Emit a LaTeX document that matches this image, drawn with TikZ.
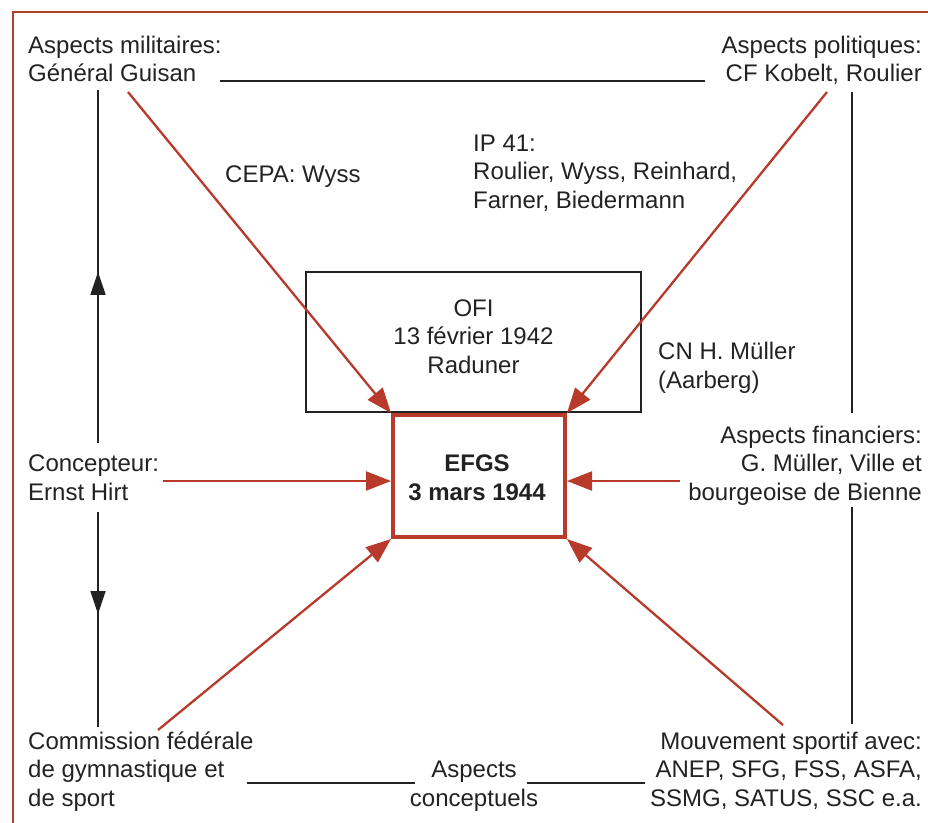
\documentclass[tikz,border=0pt]{standalone}
\usepackage{fontspec}
\setmainfont{Liberation Sans}
\usetikzlibrary{arrows.meta,decorations.markings}
\definecolor{efred}{HTML}{B83A2A}
\definecolor{framered}{HTML}{B0402F}
\definecolor{inkblack}{HTML}{222222}
\tikzset{
  lbl/.style={inner sep=0pt, font=\fontsize{24}{28.2}\selectfont, text=inkblack},
  redarrow/.style={draw=efred, line width=2.3pt, -{Triangle[length=25pt,width=19pt]}},
  blackline/.style={draw=inkblack, line width=1.5pt},
  uparrowmid/.style={blackline, postaction={decorate}, decoration={markings,
      mark=at position #1 with {\arrow{Triangle[length=23pt,width=15pt]}}}},
}
\begin{document}
\begin{tikzpicture}[x=1pt,y=-1pt]
\useasboundingbox (0,0) rectangle (928,822);
% frame
\draw[framered, line width=2.5pt] (930,12) -- (13,12) -- (13,824);

% text nodes (base anchor = baseline of last line)
\node[lbl, anchor=base west, align=left] (mil) at (28,81.5) {Aspects militaires:\\Général Guisan};
\node[lbl, anchor=base east, align=right] (pol) at (922,81.5) {Aspects politiques:\\CF Kobelt, Roulier};
\node[lbl, anchor=base west] (cepa) at (225,182) {CEPA: Wyss};
\node[lbl, anchor=base west, align=left] (ip) at (473,208) {IP 41:\\Roulier, Wyss, Reinhard,\\Farner, Biedermann};
\node[lbl, anchor=base west, align=left] (cn) at (658,388) {CN H. Müller\\(Aarberg)};
\node[lbl, anchor=base east, align=right] (fin) at (922,500) {Aspects financiers:\\G. Müller, Ville et\\bourgeoise de Bienne};
\node[lbl, anchor=base west, align=left] (conc) at (28,500) {Concepteur:\\Ernst Hirt};
\node[lbl, anchor=base west, align=left] (com) at (28,806) {Commission fédérale\\de gymnastique et\\de sport};
\node[lbl, anchor=base, align=center] (asp) at (474,806) {Aspects\\conceptuels};
\node[lbl, anchor=base east, align=right] (mouv) at (922,806) {Mouvement sportif avec:\\ANEP, SFG, FSS, ASFA,\\SSMG, SATUS, SSC e.a.};

% boxes
\node[draw=inkblack, line width=2.5pt, minimum width=335pt, minimum height=140pt, inner sep=0pt] (ofi) at (473.5,342) {};
\node[lbl, anchor=base, align=center] (ofit) at (473.5,373) {OFI\\13 février 1942\\Raduner};
\node[draw=efred, line width=4pt, minimum width=172pt, minimum height=122pt, inner sep=0pt] (efgs) at (479,476) {};
\node[lbl, anchor=base, align=center, font=\fontsize{24}{28.2}\selectfont\bfseries] (efgst) at (477,500) {EFGS\\3 mars 1944};

% coordinates for line ends
\coordinate (lt) at (98,90);
\coordinate (lm1) at (98,443);
\coordinate (lm2) at (98,512);
\coordinate (lb) at (98,727);
\coordinate (rt) at (852,92);
\coordinate (rm1) at (852,413);
\coordinate (rm2) at (852,507);
\coordinate (rb) at (852,724);
\coordinate (tl1) at (220,81);
\coordinate (tl2) at (705,81);
\coordinate (bl1) at (247,783);
\coordinate (bl2) at (415,783);
\coordinate (bl3) at (527,783);
\coordinate (bl4) at (645,783);
\coordinate (gu) at (128,92);
\coordinate (ko) at (827,92);
\coordinate (hi) at (163,481);
\coordinate (bi) at (680,481);
\coordinate (cf) at (158,730);
\coordinate (mo) at (783,725);

% black lines
\draw[blackline] (tl1) -- (tl2);
\draw[blackline] (bl1) -- (bl2);
\draw[blackline] (bl3) -- (bl4);
\draw[uparrowmid=0.485] (lm1) -- (lt);
\draw[uparrowmid=0.475] (lm2) -- (lb);
\draw[blackline] (rt) -- (rm1);
\draw[blackline] (rm2) -- (rb);

% red arrows
\draw[redarrow] (gu) -- (efgs.north west);
\draw[redarrow] (ko) -- (efgs.north east);
\draw[redarrow] (hi) -- (hi -| efgs.west);
\draw[redarrow] (bi) -- (bi -| efgs.east);
\draw[redarrow] (cf) -- (efgs.south west);
\draw[redarrow] (mo) -- (efgs.south east);
\end{tikzpicture}
\end{document}
